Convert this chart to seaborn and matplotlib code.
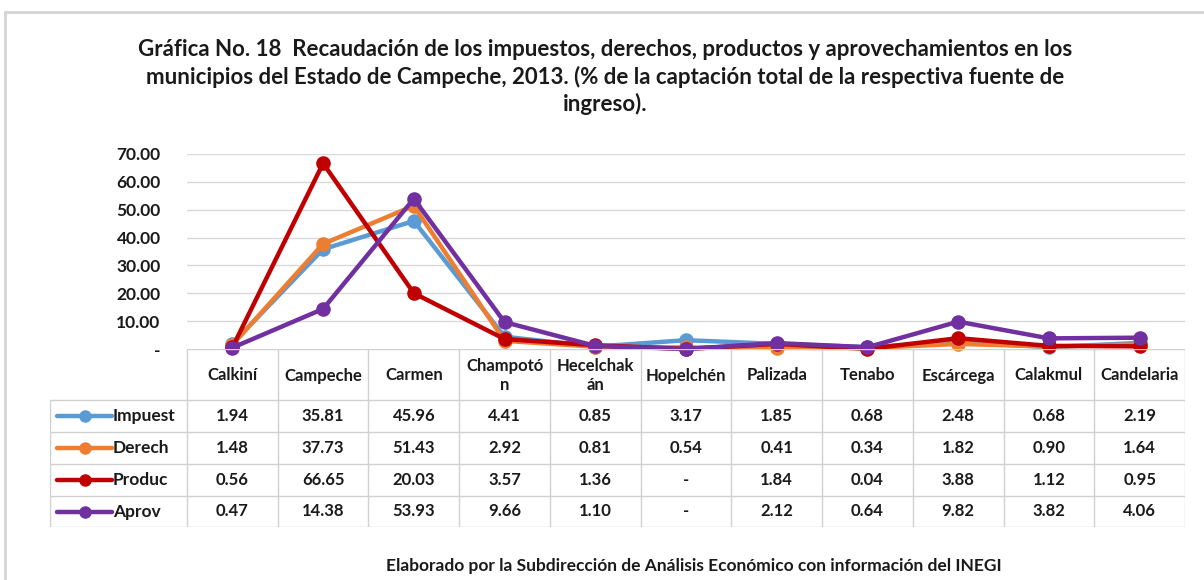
import numpy as np
import pandas as pd
import matplotlib
matplotlib.use("Agg")
import matplotlib.pyplot as plt
import seaborn as sns

# --- data ---
municipios = ["Calkiní", "Campeche", "Carmen", "Champotó\nn", "Hecelchak\nán",
              "Hopelchén", "Palizada", "Tenabo", "Escárcega", "Calakmul", "Candelaria"]
series = ["Impuest", "Derech", "Produc", "Aprov"]
impuest = [1.94, 35.81, 45.96, 4.41, 0.85, 3.17, 1.85, 0.68, 2.48, 0.68, 2.19]
derech = [1.48, 37.73, 51.43, 2.92, 0.81, 0.54, 0.41, 0.34, 1.82, 0.90, 1.64]
produc = [0.56, 66.65, 20.03, 3.57, 1.36, np.nan, 1.84, 0.04, 3.88, 1.12, 0.95]
aprov = [0.47, 14.38, 53.93, 9.66, 1.10, np.nan, 2.12, 0.64, 9.82, 3.82, 4.06]
y_ticks = [0, 10, 20, 30, 40, 50, 60, 70]

colores = {"Impuest": "#5B9BD5", "Derech": "#ED7D31", "Produc": "#C00000", "Aprov": "#7030A0"}

valores = {"Impuest": impuest, "Derech": derech, "Produc": produc, "Aprov": aprov}
rows = []
for s in series:
    for i, v in enumerate(valores[s]):
        rows.append({"pos": i, "valor": v, "serie": s})
df = pd.DataFrame(rows)
df["plot"] = df["valor"].fillna(0)  # "-" is drawn at zero in the chart

sns.set_theme(style="white")
plt.rcParams["font.family"] = ["Lato", "DejaVu Sans"]
plt.rcParams["font.weight"] = "bold"
txt_c = "#1a1a1a"

W, H = 1204, 580
fig = plt.figure(figsize=(W / 100, H / 100), dpi=100)

def fx(px):
    return px / W

def fy(py):
    return 1 - py / H

# outer frame
fig.add_artist(plt.Line2D([fx(5), 1], [fy(12), fy(12)], color="#d4d4d4", lw=2))
fig.add_artist(plt.Line2D([fx(5), fx(5)], [fy(12), 0], color="#d4d4d4", lw=2))

# --- main line chart ---
L, R, T, B = 187, 1185, 154, 349
ax = fig.add_axes([fx(L), fy(B), fx(R - L), (B - T) / H])
sns.lineplot(data=df, x="pos", y="plot", hue="serie", hue_order=series,
             palette=colores, marker="o", markersize=10.5, markeredgewidth=0,
             linewidth=3.2, legend=False, ax=ax, clip_on=False)
ax.set_xlim(-0.5, len(municipios) - 0.5)
ax.set_ylim(0, 70)
ax.set_yticks(y_ticks)
ax.set_yticklabels(["-" if t == 0 else f"{t:.2f}" for t in y_ticks],
                   fontsize=12.5, fontweight="bold", color=txt_c)
ax.tick_params(axis="y", length=0, pad=19)
ax.set_xticks([])
ax.set_xlabel("")
ax.set_ylabel("")
for t in y_ticks[1:]:
    ax.axhline(t, color="#d9d9d9", lw=1, zorder=0)
for sp in ax.spines.values():
    sp.set_visible(False)

# --- data table below ---
TL, TB = 50, 527
colw = (R - L) / len(municipios)
tx = fig.add_axes([fx(TL), fy(TB), fx(R - TL), (TB - B) / H])
x0 = -0.5 - (L - TL) / colw
tx.set_xlim(x0, len(municipios) - 0.5)
tx.set_ylim(TB - B, 0)
tx.axis("off")

def cx(px):
    return (px - L) / colw - 0.5

grid_c = "#d0d0d0"
head_b = 400 - B
row_lines = [head_b, 432 - B, 464 - B, 496 - B, TB - B]
tx.plot([-0.5, len(municipios) - 0.5], [0, 0], color=grid_c, lw=1)
for yl in row_lines:
    tx.plot([x0, len(municipios) - 0.5], [yl, yl], color=grid_c, lw=1)
for k in range(len(municipios) + 1):
    tx.plot([k - 0.5, k - 0.5], [0, TB - B], color=grid_c, lw=1)
tx.plot([x0, x0], [head_b, TB - B], color=grid_c, lw=1)

for i, m in enumerate(municipios):
    tx.text(i, head_b / 2 + 1, m, ha="center", va="center", fontsize=12,
            fontweight="bold", color=txt_c, linespacing=1.3)

for r, s in enumerate(series):
    yc = (row_lines[r] + row_lines[r + 1]) / 2
    tx.plot([cx(57), cx(112)], [yc, yc], color=colores[s], lw=3.2, solid_capstyle="round")
    tx.plot([cx(85)], [yc], "o", color=colores[s], markersize=9, markeredgewidth=0)
    tx.text(cx(113), yc, s, ha="left", va="center", fontsize=12.5,
            fontweight="bold", color=txt_c)
    for i, v in enumerate(valores[s]):
        lab = "-" if np.isnan(v) else f"{v:.2f}"
        tx.text(i, yc, lab, ha="center", va="center", fontsize=12,
                fontweight="bold", color=txt_c)

# --- title and footer ---
titulo = ("Gráfica No. 18  Recaudación de los impuestos, derechos, productos y aprovechamientos en los\n"
          "municipios del Estado de Campeche, 2013. (% de la captación total de la respectiva fuente de\n"
          "ingreso).")
fig.text(fx(605), fy(77), titulo, ha="center", va="center", fontsize=16,
         fontweight="bold", color=txt_c, linespacing=1.3)
fig.text(fx(694), fy(566), "Elaborado por la Subdirección de Análisis Económico con información del INEGI",
         ha="center", va="center", fontsize=12.5, fontweight="bold", color=txt_c)

fig.savefig("out.png", dpi=100)
